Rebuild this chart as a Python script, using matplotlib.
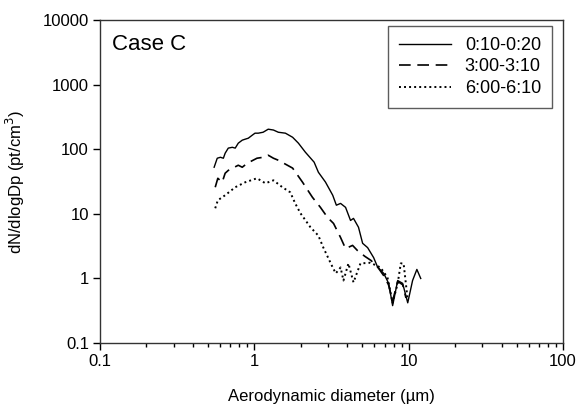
import matplotlib
matplotlib.use("Agg")
import matplotlib.pyplot as plt

plt.rcParams['font.family'] = ['Liberation Sans', 'DejaVu Sans']

# 0:10-0:20 (solid)
x_a = [0.549, 0.575, 0.603, 0.63, 0.647, 0.678, 0.72, 0.752, 0.787, 0.835,
       0.873, 0.914, 0.97, 1.01, 1.06, 1.14, 1.23, 1.33, 1.43, 1.59, 1.77,
       1.93, 2.14, 2.44, 2.60, 2.89, 3.22, 3.40, 3.62, 3.90, 4.20, 4.39, 4.73,
       5.03, 5.42, 5.93, 6.29, 6.89, 7.42, 7.87, 8.49, 9.14, 9.86, 10.6, 11.3,
       11.97]
y_a = [52.6, 72.5, 75, 72.5, 86.7, 104, 107, 104, 124, 138,
       143, 148, 165, 177, 177, 183, 204, 198, 183, 177, 153,
       124, 90, 63, 44, 31, 19.4, 13.6, 14.5, 12.6, 7.9, 8.5, 6.2,
       3.5, 3.0, 2.1, 1.5, 1.2, 0.84, 0.38, 0.93, 0.84, 0.42, 0.93, 1.38,
       1.0]

# 3:00-3:10 (dashed)
x_b = [0.558, 0.58, 0.619, 0.647, 0.678, 0.787, 0.835, 0.90, 1.04, 1.14,
       1.23, 1.33, 1.43, 1.77, 2.05, 2.38, 2.68, 2.98, 3.26, 3.62, 3.90,
       4.33, 4.66, 5.2, 5.7, 6.3, 6.9, 7.4, 7.87, 8.49, 9.14, 9.6]
y_b = [25.8, 35.5, 30.8, 42.5, 47, 56.5, 52.6, 60.7, 72.5, 75,
       80.7, 72.5, 67.5, 51, 31, 18, 12.6, 8.8, 7.1, 4.3, 2.9,
       3.25, 2.7, 2.2, 1.9, 1.5, 1.1, 0.8, 0.45, 0.9, 0.8, 0.5]

# 6:00-6:10 (dotted)
x_c = [0.558, 0.58, 0.647, 0.752, 0.873, 1.04, 1.18, 1.33, 1.52, 1.71, 1.84,
       1.99, 2.31, 2.60, 2.80, 3.22, 3.37, 3.62, 3.78, 4.07, 4.39, 4.87, 5.65,
       6.56, 7.29, 7.87, 8.49, 8.89, 9.27, 9.86]
y_c = [12.2, 16.2, 19.4, 25.8, 30.8, 35.5, 29.7, 33, 25.8, 21.5, 14.5,
       10.2, 6.2, 4.6, 3.0, 1.48, 1.2, 1.48, 0.93, 1.71, 0.87, 1.71, 1.75,
       1.48, 1.04, 0.42, 0.84, 1.71, 1.71, 0.46]

fig = plt.figure(figsize=(5.79, 4.07), dpi=100)
ax = fig.add_axes([0.1727, 0.157, 0.7997, 0.794])

ax.plot(x_a, y_a, '-', color='black', lw=1.0, label='0:10-0:20')
ax.plot(x_b, y_b, '--', color='black', lw=1.2, dashes=(7, 4), label='3:00-3:10')
ax.plot(x_c, y_c, ':', color='black', lw=1.4, dashes=(1, 1.6), label='6:00-6:10')

ax.set_xscale('log')
ax.set_yscale('log')
ax.set_xlim(0.1, 100)
ax.set_ylim(0.1, 10000)
ax.set_xticks([0.1, 1, 10, 100])
ax.set_xticklabels(['0.1', '1', '10', '100'])
ax.set_yticks([0.1, 1, 10, 100, 1000, 10000])
ax.set_yticklabels(['0.1', '1', '10', '100', '1000', '10000'])
ax.yaxis.set_minor_locator(matplotlib.ticker.NullLocator())
ax.tick_params(which='major', direction='out', length=5, width=1, labelsize=12, pad=3)
ax.tick_params(which='minor', direction='out', length=3, width=1)
for s in ax.spines.values():
    s.set_color('#333333')
    s.set_linewidth(1.0)

ax.set_xlabel('Aerodynamic diameter (\u00b5m)', fontsize=12, labelpad=14)
ax.set_ylabel('dN/dlogDp (pt/cm$^3$)', fontsize=12, labelpad=11)
ax.text(0.026, 0.925, 'Case C', transform=ax.transAxes, fontsize=16, va='center')

leg = ax.legend(loc='upper right', fontsize=13, frameon=True, fancybox=False,
                handlelength=2.9, handletextpad=0.75, labelspacing=0.25,
                borderpad=0.6, borderaxespad=0, bbox_to_anchor=(0.976, 0.981))
leg.get_frame().set_edgecolor('#333333')
leg.get_frame().set_linewidth(1.0)

fig.savefig('out.png', dpi=100)
